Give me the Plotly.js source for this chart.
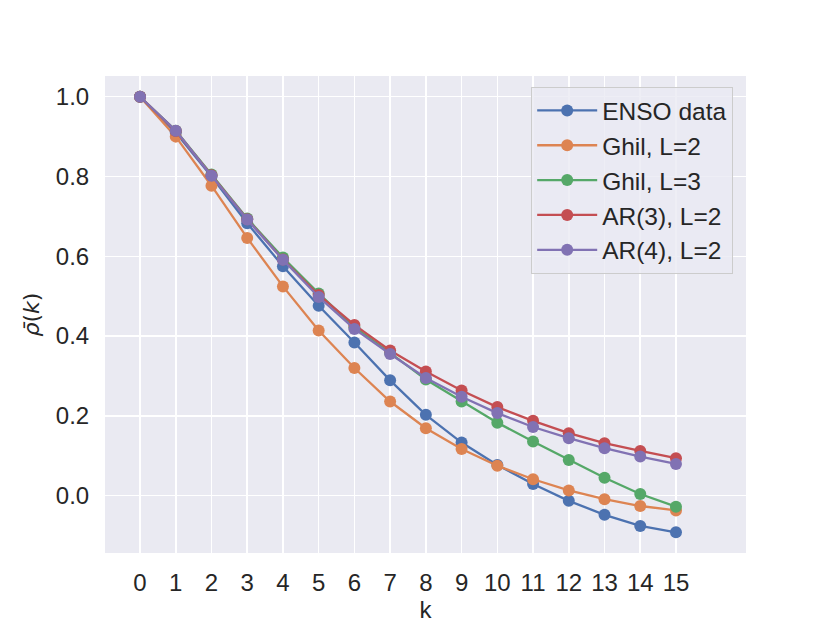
<!DOCTYPE html>
<html><head><meta charset="utf-8">
<script src="https://cdn.plot.ly/plotly-3.0.1.min.js"></script>
<style>body{margin:0;background:#fff}#c{width:830px;height:623px}</style>
</head><body><div id="c"></div>
<script>
const lags = [0,1,2,3,4,5,6,7,8,9,10,11,12,13,14,15];
const ensoData = [1.0, 0.91, 0.80, 0.683, 0.575, 0.476, 0.384, 0.289, 0.2025, 0.133, 0.077, 0.029, -0.013, -0.048, -0.076, -0.092];
const ghilL2 = [1.0, 0.900, 0.777, 0.646, 0.5245, 0.414, 0.320, 0.236, 0.169, 0.117, 0.075, 0.041, 0.013, -0.009, -0.026, -0.037];
const ghilL3 = [1.0, 0.915, 0.805, 0.695, 0.597, 0.507, 0.422, 0.358, 0.291, 0.236, 0.183, 0.1355, 0.0896, 0.045, 0.004, -0.0276];
const ar3L2 = [1.0, 0.914, 0.803, 0.693, 0.592, 0.503, 0.428, 0.364, 0.311, 0.2635, 0.222, 0.1875, 0.1566, 0.1315, 0.112, 0.094];
const ar4L2 = [1.0, 0.915, 0.802, 0.692, 0.5915, 0.498, 0.418, 0.355, 0.295, 0.248, 0.207, 0.172, 0.144, 0.119, 0.098, 0.0796];
const seriesNames = ["ENSO data", "Ghil, L=2", "Ghil, L=3", "AR(3), L=2", "AR(4), L=2"];
const seriesColors = ["#4c72b0", "#dd8452", "#55a868", "#c44e52", "#8172b3"];
const seriesValues = [ensoData, ghilL2, ghilL3, ar3L2, ar4L2];

const traces = seriesValues.map((v, i) => ({
  x: lags, y: v, type: "scatter", mode: "lines+markers",
  name: seriesNames[i], legendgroup: "g" + i,
  line: {color: seriesColors[i], width: 2.3},
  marker: {color: seriesColors[i], size: 12}
}));

const fam = "Liberation Sans, Arial, sans-serif";
const font = {family: fam, size: 24, color: "#262626"};
const layout = {
  width: 830, height: 623,
  margin: {l: 105, r: 84, t: 76, b: 70},
  paper_bgcolor: "#ffffff", plot_bgcolor: "#eaeaf2",
  font: font,
  showlegend: true,
  legend: {
    x: 0.98, y: 0.977, xanchor: "right", yanchor: "top",
    bgcolor: "rgba(234,234,242,0.8)", bordercolor: "#cccccc", borderwidth: 1,
    font: {family: fam, size: 24.5, color: "#262626"},
    traceorder: "grouped", tracegroupgap: 0, itemwidth: 60
  },
  xaxis: {
    range: [-0.98, 16.96], tickmode: "array", tickvals: lags, ticktext: lags.map(String),
    showgrid: true, gridcolor: "#ffffff", gridwidth: 1.5, zeroline: false,
    showline: false, ticks: "outside", ticklen: 8, tickcolor: "rgba(0,0,0,0)",
    title: {text: "k", font: {family: fam, size: 24, color: "#262626"}, standoff: 4}
  },
  yaxis: {
    range: [-0.1438, 1.052], tickmode: "array", tickvals: [0, 0.2, 0.4, 0.6, 0.8, 1.0],
    ticktext: ["0.0", "0.2", "0.4", "0.6", "0.8", "1.0"],
    showgrid: true, gridcolor: "#ffffff", gridwidth: 1.5, zeroline: false,
    showline: false, ticks: "outside", ticklen: 10, tickcolor: "rgba(0,0,0,0)",
    title: {text: "<i>ρ̄</i>(<i>k</i>)", font: {family: "DejaVu Sans, sans-serif", size: 22, color: "#262626"}, standoff: 10}
  }
};
Plotly.newPlot("c", traces, layout, {displayModeBar: false, staticPlot: true});
</script>
</body></html>
